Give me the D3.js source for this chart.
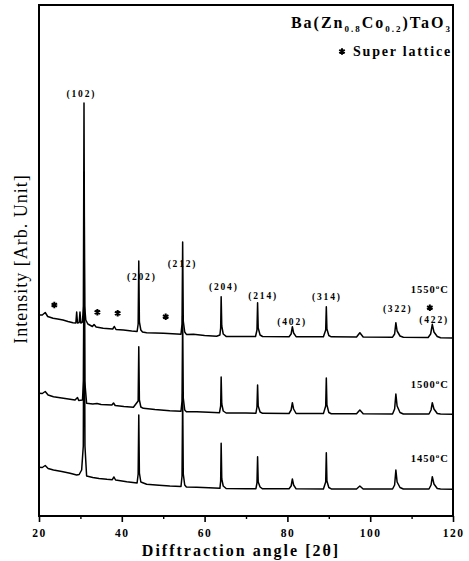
<!DOCTYPE html>
<html>
<head>
<meta charset="utf-8">
<script src="https://cdn.jsdelivr.net/npm/d3@7"></script>
<style>
  body { margin: 0; background: #fff; }
  svg { display: block; font-family: "Liberation Serif", "Times New Roman", serif; }
</style>
</head>
<body>
<svg></svg>
<script>
/* XRD patterns of Ba(Zn0.8Co0.2)TaO3 at three sintering temperatures */
var w = 469, h = 561;

// [2theta, intensity (arb.)], traces already stacked
var trace1450 = [
  [20,48.7],[20.8,48.5],[21.5,50.5],[22.2,47.5],[23.5,46],[25.5,44.5],[27.5,42.7],[29.1,41],[29.7,41.5],
  [30.3,46],[30.7,70],[30.9,290],[31.1,70],[31.5,40],[33,38.5],[34.5,37.5],[36.4,36.7],[37.7,36.3],
  [38.1,39],[38.5,36],[41.2,34.3],[43.7,33],[43.95,42],[44.1,101],[44.25,43],[44.6,34],[46,31.7],
  [49,30.8],[51.6,30],[54.3,29.5],[54.55,40],[54.7,122],[54.85,42],[55.2,31],[55.6,29],[58.1,28.7],
  [61,28.2],[63.7,27.7],[63.88,35],[64.0,72.7],[64.15,37],[64.5,30],[65.2,27.5],[70,27.3],[72.4,27.3],
  [72.65,33],[72.8,59.3],[72.95,34],[73.4,29],[74,27.2],[80.4,27.2],[80.9,30],[81.2,37],[81.5,31],
  [82.1,27.2],[88.7,27.1],[89.25,34],[89.4,63.3],[89.55,35],[90,28.5],[90.6,27.1],[96.7,27],[97.5,30],
  [98.3,27],[105.4,27],[105.9,31],[106.2,46],[106.5,34],[107.2,28.5],[108,27],[114.2,27],[114.7,31],
  [115.0,39.3],[115.4,32],[116.2,27.5],[117,27],[120,26.8]
];

var trace1500 = [
  [20,122.7],[20.8,122.5],[21.5,124.5],[22.2,121],[23.5,119.3],[25.5,118],[27.5,116.7],[28.7,116],
  [29.3,118.5],[29.6,115.5],[30.5,116],[30.75,135],[30.9,344],[31.05,135],[31.5,112.7],[33,112],
  [34,112.5],[35,111.5],[37.6,111],[38,113],[38.4,110.5],[40.5,109.5],[42.8,108.7],[43.95,115],
  [44.1,169.3],[44.25,116],[44.6,109],[45.2,107.7],[48,106.5],[51.6,105.3],[54.3,104.7],[54.55,115],
  [54.7,200],[54.85,118],[55.2,106],[55.6,104.3],[58.1,104.3],[61,103.8],[63.6,103.3],[63.88,110],
  [64.0,139],[64.15,112],[64.5,105],[65.2,103],[70,102.9],[72.4,102.8],[72.65,109],[72.8,131],
  [72.95,110],[73.4,104],[74,102.7],[80.4,102.5],[80.9,106],[81.2,113.3],[81.5,107],[82.1,102.5],
  [88.7,102.4],[89.25,110],[89.4,138],[89.55,111],[90,103.5],[90.6,102.3],[96.7,102.2],[97.5,106],
  [98.3,102.2],[105.4,102],[105.9,107],[106.2,122],[106.5,110],[107.2,103.5],[108,102],[114.2,102],
  [114.7,106],[115.0,113.3],[115.4,107],[116.2,102.5],[117,102],[120,101.8]
];

var trace1550 = [
  [20,201],[20.8,201],[21.5,203.5],[22.1,199.5],[23.4,197.7],[24.5,197],[25.8,196],[27,194.5],
  [28.2,193.3],[28.9,193],[29.1,204],[29.3,193],[29.7,193.5],[29.9,204],[30.1,193],[30.5,194],
  [30.72,210],[30.87,413],[31.02,210],[31.3,196],[31.8,192],[32.9,189.5],[33.3,191.5],[33.8,189],
  [35.5,187.7],[37.8,187],[38.2,189.5],[38.6,186.5],[40.4,186],[42.4,185],[43.7,184.5],[43.95,192],
  [44.1,255],[44.25,194],[44.6,186],[45,184],[46,183.3],[50.1,182.7],[53.3,182],[54.3,181.8],
  [54.55,192],[54.7,274],[54.85,195],[55.2,184],[55.6,181.6],[57.3,181.7],[60,180.5],[62.9,179.8],
  [63.7,181],[63.88,188],[64.0,219.3],[64.15,190],[64.5,182],[65.2,179.6],[70,179.5],[72.3,179.5],
  [72.65,186],[72.8,213.3],[72.95,188],[73.4,181],[74.0,179.5],[80.4,179.3],[80.9,182],[81.2,189.3],
  [81.5,183],[82.1,179.3],[88.7,179.2],[89.25,186],[89.4,209.3],[89.55,187],[90.0,180.5],[90.6,179.2],
  [96.7,179],[97.5,183.3],[98.3,179],[105.4,178.8],[105.9,182],[106.2,193.3],[106.5,185],[107.2,180],
  [108,178.7],[114.0,178.5],[114.6,182],[115.0,191.7],[115.4,184],[116.2,179.5],[117,178.2],[120,178]
];

var temps = ["1450", "1500", "1550"];
var tempLevels = [54.3, 127.7, 223];

// Miller indices on the 1550 pattern: name, 2theta, label level
var hklNames  = ["(102)", "(202)", "(212)", "(204)", "(214)", "(402)", "(314)", "(322)", "(422)"];
var hklAngles = [30.0, 44.6, 54.4, 64.4, 73.9, 80.9, 89.3, 106.4, 115.2];
var hklLevels = [419, 236, 249, 226, 217, 191, 216, 204, 193];

// super lattice reflections (*)
var starAngles = [23.7, 34.1, 39.0, 50.6, 114.4];
var starLevels = [211, 203.7, 202.7, 199.3, 208.3];

var majorTicks = [20, 40, 60, 80, 100, 120];
var minorTicks = [30, 50, 70, 90, 110];

var svg = d3.select("svg")
            .attr("width", w)
            .attr("height", h);

var x = d3.scaleLinear().domain([20, 120]).range([39, 453]);
var y = d3.scaleLinear().domain([0, 511]).range([516, 5]);

var line = d3.line()
             .x(function(d) { return x(d[0]); })
             .y(function(d) { return y(d[1]); });

// traces
svg.append("g")
   .selectAll("path")
   .data([trace1450, trace1500, trace1550])
   .enter()
   .append("path")
   .attr("d", line)
   .attr("fill", "none")
   .attr("stroke", "#000")
   .attr("stroke-width", 1.5)
   .attr("stroke-linejoin", "round");

// frame
svg.append("rect")
   .attr("x", x(20))
   .attr("y", y(511))
   .attr("width", x(120) - x(20))
   .attr("height", y(0) - y(511))
   .attr("fill", "none")
   .attr("stroke", "#000")
   .attr("stroke-width", 2);

// bottom axis
var axis = svg.append("g")
              .attr("transform", "translate(0," + y(0) + ")")
              .call(d3.axisBottom(x).tickValues(majorTicks).tickSize(6).tickPadding(7));
axis.select(".domain").remove();
axis.selectAll("line").attr("stroke-width", 1.6);
axis.selectAll("text")
    .attr("font-family", "Liberation Serif, serif")
    .attr("font-size", 11.5)
    .attr("font-weight", "bold")
    .attr("letter-spacing", "1.5px")
    .attr("fill", "#000");

var minor = svg.append("g")
               .attr("transform", "translate(0," + y(0) + ")")
               .call(d3.axisBottom(x).tickValues(minorTicks).tickSize(3).tickFormat(""));
minor.select(".domain").remove();
minor.selectAll("line").attr("stroke-width", 1.4);

// axis titles
svg.append("text")
   .attr("x", 241)
   .attr("y", 556)
   .attr("text-anchor", "middle")
   .attr("font-size", 16)
   .attr("font-weight", "bold")
   .attr("letter-spacing", "2px")
   .text("Difftraction angle [2θ]");

svg.append("text")
   .attr("transform", "translate(27,259) rotate(-90)")
   .attr("text-anchor", "middle")
   .attr("font-size", 18)
   .attr("letter-spacing", "1px")
   .text("Intensity [Arb. Unit]");

// peak labels
svg.append("g")
   .selectAll("text")
   .data(hklNames)
   .enter()
   .append("text")
   .attr("x", function(d, i) { return x(hklAngles[i]) + 1; })
   .attr("y", function(d, i) { return y(hklLevels[i]); })
   .attr("text-anchor", "middle")
   .attr("font-size", 9.5)
   .attr("font-weight", "bold")
   .attr("letter-spacing", "1.8px")
   .text(function(d) { return d; });

// super lattice stars
var star = d3.symbol().type(d3.symbolAsterisk).size(28);
svg.append("g")
   .selectAll("path")
   .data(starAngles)
   .enter()
   .append("path")
   .attr("transform", function(d, i) { return "translate(" + x(d) + "," + y(starLevels[i]) + ")"; })
   .attr("d", star)
   .attr("fill", "none")
   .attr("stroke", "#000")
   .attr("stroke-width", 2);

// temperature labels
var tl = svg.append("g")
            .selectAll("text")
            .data(temps)
            .enter()
            .append("text")
            .attr("x", x(119.0))
            .attr("y", function(d, i) { return y(tempLevels[i]); })
            .attr("text-anchor", "end")
            .attr("font-size", 10.5)
            .attr("font-weight", "bold")
            .attr("letter-spacing", "1px");
tl.append("tspan").text(function(d) { return d; });
tl.append("tspan").attr("dy", -4).attr("font-size", 7).text("o");
tl.append("tspan").attr("dy", 4).text("C");

// composition
var title = svg.append("text")
               .attr("x", 452)
               .attr("y", 28)
               .attr("text-anchor", "end")
               .attr("font-size", 16)
               .attr("font-weight", "bold")
               .attr("letter-spacing", "2px");
title.append("tspan").text("Ba(Zn");
title.append("tspan").attr("dy", 4).attr("font-size", 9).text("0.8");
title.append("tspan").attr("dy", -4).text("Co");
title.append("tspan").attr("dy", 4).attr("font-size", 9).text("0.2");
title.append("tspan").attr("dy", -4).text(")TaO");
title.append("tspan").attr("dy", 4).attr("font-size", 9).text("3");

// legend
svg.append("path")
   .attr("transform", "translate(342,51.5)")
   .attr("d", star)
   .attr("fill", "none")
   .attr("stroke", "#000")
   .attr("stroke-width", 2);
svg.append("text")
   .attr("x", 452)
   .attr("y", 56)
   .attr("text-anchor", "end")
   .attr("font-size", 14)
   .attr("font-weight", "bold")
   .attr("letter-spacing", "1.8px")
   .text("Super lattice");
</script>
</body>
</html>
